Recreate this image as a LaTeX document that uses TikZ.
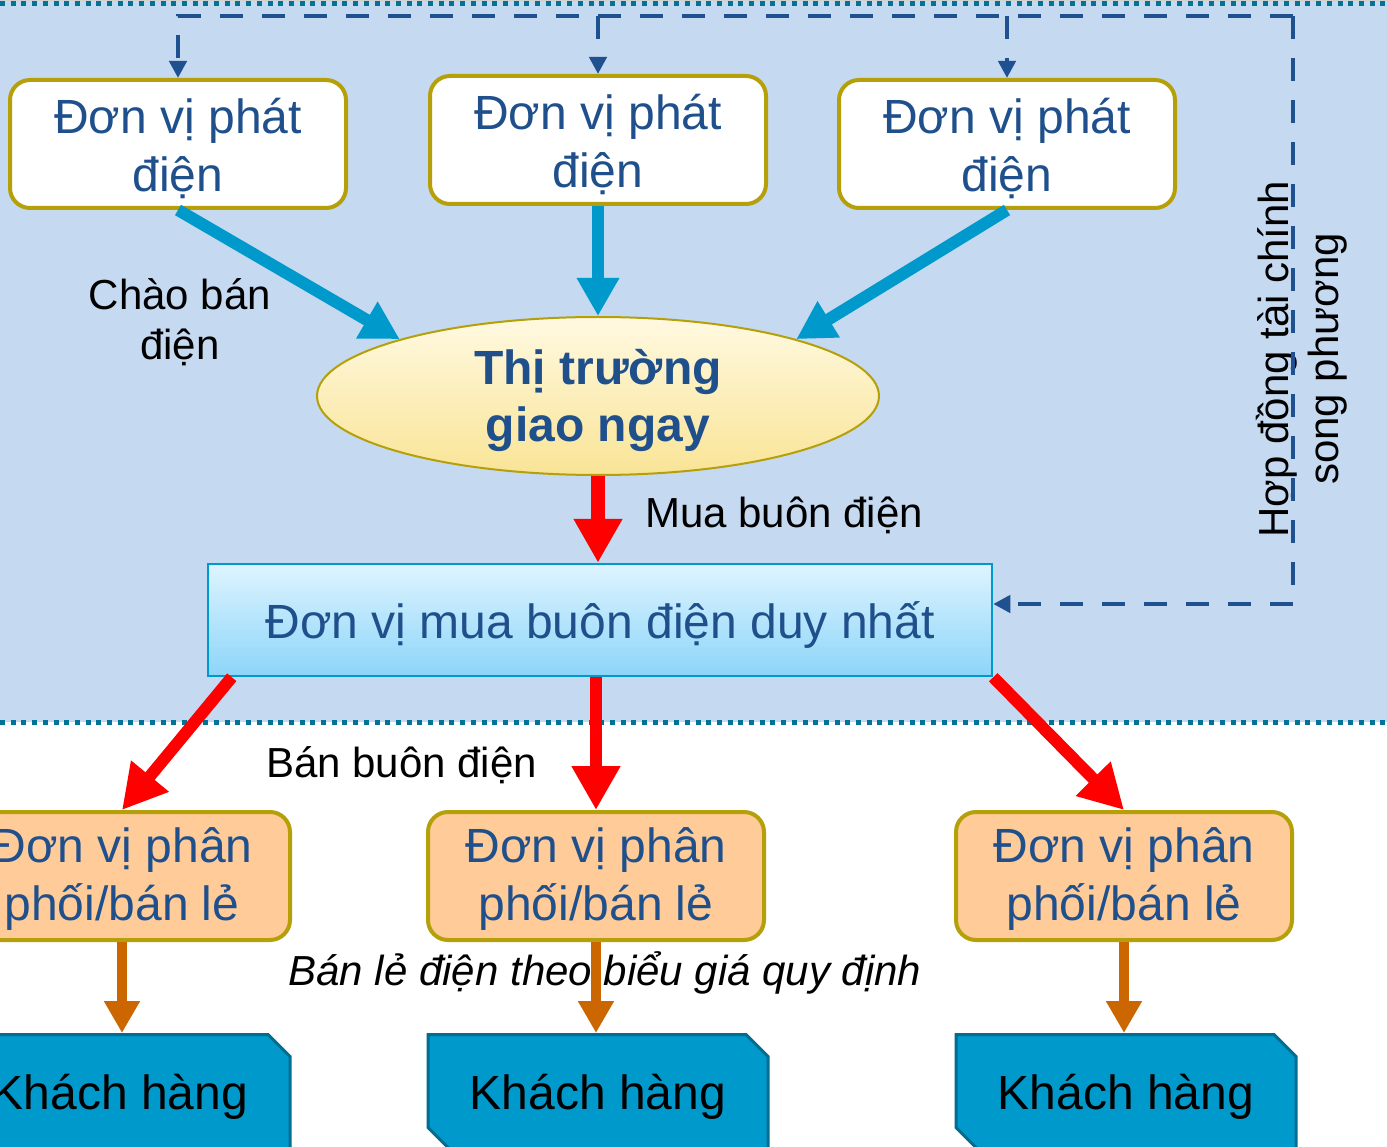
\documentclass[tikz,border=0pt]{standalone}
\usepackage{fontspec}
\setmainfont{Liberation Sans}
\usetikzlibrary{arrows.meta,shapes.geometric,shapes.misc}
\definecolor{bgblue}{RGB}{197,217,241}
\definecolor{txtblue}{RGB}{31,80,140}
\definecolor{dashblue}{RGB}{31,80,143}
\definecolor{olivec}{RGB}{181,160,10}
\definecolor{arrblue}{RGB}{0,153,204}
\definecolor{dotteal}{RGB}{0,115,150}
\definecolor{peach}{RGB}{255,204,153}
\definecolor{custfill}{RGB}{0,153,204}
\definecolor{custdraw}{RGB}{0,110,145}
\definecolor{orangearr}{RGB}{204,102,0}
\definecolor{buyertop}{RGB}{222,244,255}
\definecolor{buyerbot}{RGB}{140,213,249}
\definecolor{buyerdraw}{RGB}{0,153,204}
\definecolor{elltop}{RGB}{255,249,225}
\definecolor{ellbot}{RGB}{249,228,150}
\begin{document}
\begin{tikzpicture}[x=1pt,y=-1pt,
  genbox/.style={draw=olivec, line width=4pt, fill=white, rounded corners=20pt,
    minimum width=336pt, minimum height=128pt, inner sep=0pt, align=center,
    text=txtblue, font=\fontsize{48}{58.5}\selectfont,
    text height=104.6pt, text depth=9pt},
  distbox/.style={genbox, fill=peach, text height=99pt, text depth=10pt},
  custbox/.style={chamfered rectangle, chamfered rectangle corners={north east,south west},
    chamfered rectangle sep=11pt, draw=custdraw, line width=3pt, fill=custfill,
    minimum width=340pt, minimum height=115pt, inner sep=0pt, text=black,
    font=\fontsize{48}{58}\selectfont, text height=45pt, text depth=10pt},
  market/.style={ellipse, draw=olivec, line width=2pt, top color=elltop, bottom color=ellbot,
    minimum width=562pt, minimum height=158pt, inner sep=0pt, align=center,
    text=txtblue, font=\fontsize{48}{57}\selectfont\bfseries,
    text height=98pt, text depth=6pt},
  buyerbox/.style={draw=buyerdraw, line width=2.5pt, top color=buyertop, bottom color=buyerbot,
    minimum width=784pt, minimum height=112pt, inner sep=0pt, text=txtblue,
    font=\fontsize{48}{58}\selectfont, text height=46pt, text depth=10pt},
  lbl/.style={inner sep=0pt, text=black, font=\fontsize{42}{50}\selectfont, align=center},
  bluearr/.style={draw=arrblue, line width=12pt, -{Triangle[width=40pt,length=38pt]}},
  redarr/.style={draw=red, line width=12pt, -{Triangle[width=46pt,length=44pt]}},
  orarr/.style={draw=orangearr, line width=10pt, -{Triangle[width=34pt,length=32pt]}},
  dasharr/.style={draw=dashblue, line width=4.5pt, dash pattern=on 23pt off 19pt},
  dtip/.style={-{Triangle[width=17pt,length=17pt]}},
  dotline/.style={draw=dotteal, line width=5pt, dash pattern=on 5pt off 5.7pt}
]
\useasboundingbox (0,0) rectangle (1387,1147);
\clip (0,0) rectangle (1387,1147);
% backgrounds
\fill[white] (0,0) rectangle (1387,1147);
\fill[bgblue] (0,0) rectangle (1387,722);
\fill[black!18] (0,0) rectangle (1387,1.5);
\draw[dotline] (0,3.5) -- (1387,3.5);
\draw[dotline] (0,722) -- (1387,722);

% labels
\node[lbl, anchor=base] (lchao) at (180,360) {Chào bán\\điện};
\node[lbl, anchor=base west] (lmua) at (645,527) {Mua buôn điện};
\node[lbl, anchor=base west] (lban) at (266,777) {Bán buôn điện};
\node[lbl, anchor=base, font=\fontsize{42}{50}\selectfont\itshape] (lle) at (605,985) {Bán lẻ điện theo biểu giá quy định};
\node[lbl, rotate=90, anchor=base] (lhop) at (1338,359) {Hợp đồng tài chính\\song phương};

% nodes
\node[genbox] (g1) at (178,144) {Đơn vị phát\\điện};
\node[genbox] (g2) at (598,140) {Đơn vị phát\\điện};
\node[genbox] (g3) at (1007,144) {Đơn vị phát\\điện};
\node[market] (ell) at (598,396) {Thị trường\\giao ngay};
\node[buyerbox] (buyer) at (600,620) {Đơn vị mua buôn điện duy nhất};
\node[distbox] (dA) at (122,876) {Đơn vị phân\\phối/bán lẻ};
\node[distbox] (dB) at (596,876) {Đơn vị phân\\phối/bán lẻ};
\node[distbox] (dC) at (1124,876) {Đơn vị phân\\phối/bán lẻ};
\node[custbox] (cA) at (120,1092) {Khách hàng};
\node[custbox] (cB) at (598,1092) {Khách hàng};
\node[custbox] (cC) at (1126,1092) {Khách hàng};

% dashed contract lines
\coordinate (ctop) at (1293,16);
\coordinate (cbot) at (1293,604);
\draw[dasharr, dtip] (ctop) -- (cbot) -- (buyer.east |- cbot);
\draw[dasharr, dtip] (ctop) -- (g1.north |- ctop) -- (g1.north);
\draw[dasharr, dtip] (g2.north |- ctop) -- (g2.north);
\draw[dasharr, dtip] (g3.north |- ctop) -- (g3.north);

% offers
\draw[bluearr] (g1.south) -- (ell.164);
\draw[bluearr] (g2.south) -- (ell.north);
\draw[bluearr] (g3.south) -- (ell.16);

% wholesale
\draw[redarr, line width=14pt] (ell.south) -- (ell.south |- buyer.north);
\draw[redarr] ([xshift=25pt]buyer.south west) -- (dA.north);
\draw[redarr] (dB.north |- buyer.south) -- (dB.north);
\draw[redarr] (buyer.south east) -- (dC.north);

% retail
\draw[orarr] (dA.south) -- (dA.south |- cA.north);
\draw[orarr] (dB.south) -- (dB.south |- cB.north);
\draw[orarr] (dC.south) -- (dC.south |- cC.north);
\end{tikzpicture}
\end{document}
